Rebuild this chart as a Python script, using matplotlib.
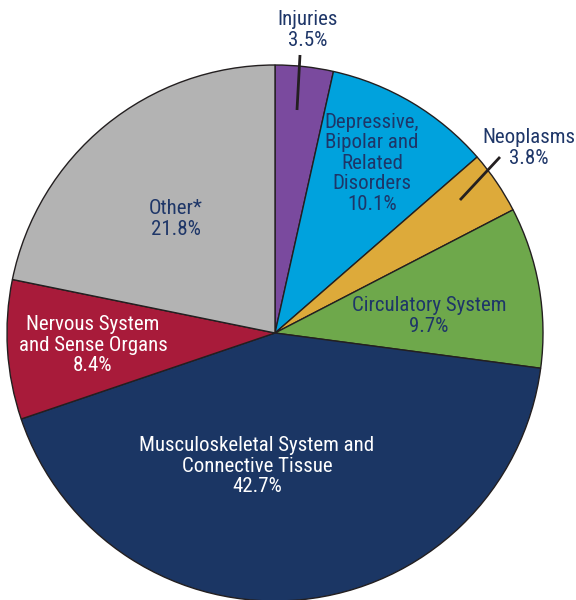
import matplotlib
matplotlib.use("Agg")
import matplotlib.pyplot as plt
from matplotlib import font_manager

names = {f.name for f in font_manager.fontManager.ttflist}
FAM = next((n for n in ["Roboto Condensed", "Archivo Narrow", "Liberation Sans Narrow"] if n in names), "DejaVu Sans")
plt.rcParams['font.family'] = [FAM, 'DejaVu Sans']

categories = ["Injuries", "Depressive,\nBipolar and\nRelated\nDisorders", "Neoplasms",
              "Circulatory System", "Musculoskeletal System and\nConnective Tissue",
              "Nervous System\nand Sense Organs", "Other*"]
values = [3.5, 10.1, 3.8, 9.7, 42.7, 8.4, 21.8]
colors = ["#7A4A9E", "#00A2DD", "#DDAA3A", "#6EA84B", "#1B3664", "#A81B3A", "#B3B3B3"]

NAVY = "#1E3668"
W, H = 576, 600
CX, CY, R = 275, 333, 268

fig = plt.figure(figsize=(W/100, H/100), dpi=100)
ax = fig.add_axes([0, 0, 1, 1])

ax.pie(values, colors=colors, startangle=90, counterclock=False, radius=1,
       center=(0, 0), frame=True,
       wedgeprops=dict(edgecolor="#231F20", linewidth=1.0))
ax.set_xlim(-CX/R, (W-CX)/R)
ax.set_ylim(-(H-CY)/R, CY/R)
ax.set_aspect('auto')
ax.axis('off')

def P(px, py):
    return ((px-CX)/R, (CY-py)/R)

fs = 15
labels = [
    (P(308, 30), NAVY),
    (P(372, 163), NAVY),
    (P(529, 148), NAVY),
    (P(429, 316), NAVY),
    (P(257, 466), "white"),
    (P(93, 345), "white"),
    (P(176, 219), NAVY),
]
for cat, v, (pos, col) in zip(categories, values, labels):
    ax.text(pos[0], pos[1], f"{cat}\n{v}%", ha='center', va='center',
            fontsize=fs, color=col, linespacing=1.1)

for (x0, y0), (x1, y1) in [((300, 55), (297, 110)), ((500, 157), (460, 200))]:
    a, b = P(x0, y0), P(x1, y1)
    ax.plot([a[0], b[0]], [a[1], b[1]], color="#231F20", lw=2.0, solid_capstyle='butt')

fig.savefig("out.png", dpi=100, facecolor="white")
